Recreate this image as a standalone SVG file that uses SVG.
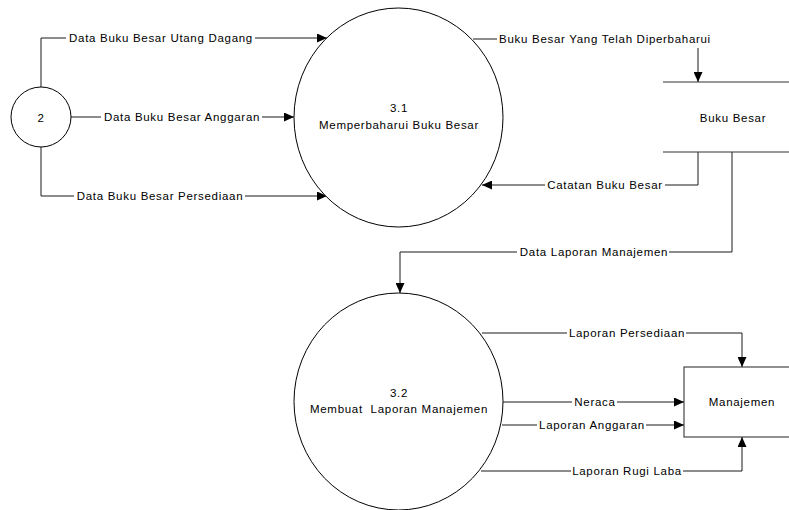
<svg xmlns="http://www.w3.org/2000/svg" width="789" height="510" viewBox="0 0 789 510">
  <defs>
    <marker id="arrow" markerUnits="userSpaceOnUse" markerWidth="10" markerHeight="9" refX="10" refY="4.5" orient="auto">
      <path d="M0,0 L10,4.5 L0,9 Z" fill="#000"/>
    </marker>
    <style>
      text { font-family: "Liberation Sans", Arial, sans-serif; font-size: 11.5px; letter-spacing: 0.7px; fill: #000; text-anchor: middle; white-space: pre; }
      .flow { fill: none; stroke: #1a1a1a; stroke-width: 1; }
      .arr { marker-end: url(#arrow); }
      .proc { fill: #fff; stroke: #000; stroke-width: 1; }
      .store { stroke: #333; stroke-width: 1.2; }
      .ent { fill: #fff; stroke: #222; stroke-width: 1; }
      .lblbg { fill: #fff; }
    </style>
  </defs>

  <rect width="789" height="510" fill="#fff"/>

  <!-- data flows -->
  <g id="connectors">
    <path class="flow arr" d="M41,87 V38 H327"/>
    <path class="flow arr" d="M71,117 H294"/>
    <path class="flow arr" d="M41,147 V196 H327"/>
    <path class="flow arr" d="M473,39 H698 V82"/>
    <path class="flow arr" d="M698,152 V185 H482"/>
    <path class="flow arr" d="M732,152 V252 H400 V293"/>
    <path class="flow arr" d="M482,333 H742 V367"/>
    <path class="flow arr" d="M503,402 H684"/>
    <path class="flow arr" d="M502,425 H684"/>
    <path class="flow arr" d="M481,471 H742 V437"/>

    <!-- flow labels -->
    <g id="lbl-utang">
      <rect class="lblbg" x="66" y="32" width="189" height="13"/>
      <text x="161" y="42">Data Buku Besar Utang Dagang</text>
    </g>
    <g id="lbl-anggaran">
      <rect class="lblbg" x="101" y="111" width="161" height="13"/>
      <text x="182" y="121">Data Buku Besar Anggaran</text>
    </g>
    <g id="lbl-persediaan">
      <rect class="lblbg" x="74" y="190" width="171" height="13"/>
      <text x="160" y="200">Data Buku Besar Persediaan</text>
    </g>
    <g id="lbl-diperbaharui">
      <rect class="lblbg" x="497" y="32" width="216" height="16"/>
      <text x="605" y="43">Buku Besar Yang Telah Diperbaharui</text>
    </g>
    <g id="lbl-catatan">
      <rect class="lblbg" x="545" y="179" width="120" height="13"/>
      <text x="605" y="189">Catatan Buku Besar</text>
    </g>
    <g id="lbl-laporan-manajemen">
      <rect class="lblbg" x="517" y="246" width="152" height="13"/>
      <text x="594" y="256">Data Laporan Manajemen</text>
    </g>
    <g id="lbl-lap-persediaan">
      <rect class="lblbg" x="567" y="327" width="119" height="13"/>
      <text x="627" y="337">Laporan Persediaan</text>
    </g>
    <g id="lbl-neraca">
      <rect class="lblbg" x="572" y="396" width="45" height="13"/>
      <text x="595" y="406">Neraca</text>
    </g>
    <g id="lbl-lap-anggaran">
      <rect class="lblbg" x="537" y="419" width="109" height="13"/>
      <text x="592" y="429">Laporan Anggaran</text>
    </g>
    <g id="lbl-rugi-laba">
      <rect class="lblbg" x="571" y="465" width="112" height="13"/>
      <text x="627" y="475">Laporan Rugi Laba</text>
    </g>
  </g>

  <!-- external process 2 -->
  <g id="node-2">
    <circle class="proc" cx="41" cy="117" r="30"/>
    <text x="41" y="121.5">2</text>
  </g>

  <!-- process 3.1 -->
  <g id="node-3-1">
    <ellipse class="proc" cx="398.5" cy="117.5" rx="104.5" ry="109.5"/>
    <text x="399" y="112">3.1</text>
    <text x="399" y="129">Memperbaharui Buku Besar</text>
  </g>

  <!-- process 3.2 -->
  <g id="node-3-2">
    <ellipse class="proc" cx="398.5" cy="401.5" rx="104.5" ry="108.5"/>
    <text x="399" y="397">3.2</text>
    <text x="399" y="413" xml:space="preserve">Membuat  Laporan Manajemen</text>
  </g>

  <!-- data store Buku Besar -->
  <g id="store-buku-besar">
    <line class="store" x1="663" y1="82" x2="789" y2="82"/>
    <line class="store" x1="663" y1="152" x2="789" y2="152"/>
    <text x="733" y="122">Buku Besar</text>
  </g>

  <!-- external entity Manajemen -->
  <g id="entity-manajemen">
    <rect class="ent" x="684" y="367" width="110" height="70"/>
    <text x="742" y="406">Manajemen</text>
  </g>
</svg>
